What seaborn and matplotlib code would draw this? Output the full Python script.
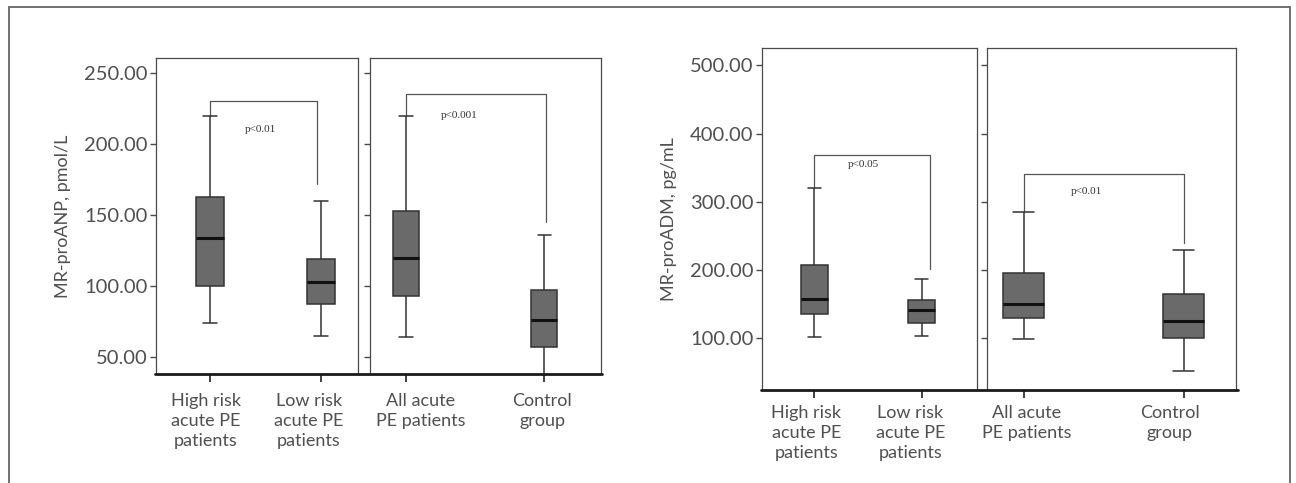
import numpy as np
import pandas as pd
import matplotlib
matplotlib.use("Agg")
import matplotlib.pyplot as plt
import matplotlib.transforms as mtransforms
from matplotlib.lines import Line2D
from matplotlib.patches import Rectangle
import seaborn as sns

# categories
risk_groups = ["High risk\nacute PE\npatients", "Low risk\nacute PE\npatients"]
all_groups = ["All acute\nPE patients", "Control\ngroup"]

# five-number summaries: [low whisker, Q1, median, Q3, high whisker]
anp_high_risk = [74, 100, 134, 163, 220]
anp_low_risk = [65, 87, 103, 119, 160]
anp_all_acute = [64, 93, 120, 153, 220]
anp_control = [30, 57, 76, 97, 136]

adm_high_risk = [102, 136, 157, 208, 320]
adm_low_risk = [103, 123, 142, 156, 187]
adm_all_acute = [99, 129, 150, 196, 285]
adm_control = [52, 100, 125, 165, 230]

# significance brackets: [bracket top, right leg bottom]
anp_risk_bracket = [230, 172]
anp_all_bracket = [235, 145]
adm_risk_bracket = [369, 202]
adm_all_bracket = [341, 240]
p_labels = ["p<0.01", "p<0.001", "p<0.05", "p<0.01"]

anp_ticks = [50, 100, 150, 200, 250]
adm_ticks = [100, 200, 300, 400, 500]

W, H = 1296, 483
TEXT = "#505050"
FRAME = "#4a4a4a"
FILL = "#6a6a6a"

sns.set_style("white")
plt.rcParams["font.family"] = ["Lato", "DejaVu Sans"]

fig = plt.figure(figsize=(W / 100, H / 100), dpi=100)


def add_ax(x0, x1, top, bottom):
    return fig.add_axes([x0 / W, 1 - bottom / H, (x1 - x0) / W, (bottom - top) / H])


def draw_panel(ax, groups, summaries, width, xlim, ylim, ticks, show_labels, xpad, label_dx):
    df = pd.DataFrame({
        "group": np.repeat(groups, 5),
        "value": np.concatenate(summaries),
    })
    sns.boxplot(data=df, x="group", y="value", order=groups, ax=ax,
                width=width, color=FILL, saturation=1, linecolor="#333333",
                linewidth=1.1, whis=(0, 100), showfliers=False,
                medianprops=dict(color="#111111", linewidth=2.2))
    ax.set_xlim(*xlim)
    ax.set_ylim(*ylim)
    ax.set_xlabel("")
    ax.set_ylabel("")
    ax.set_yticks(ticks)
    if show_labels:
        ax.set_yticklabels([f"{t:.2f}" for t in ticks])
    else:
        ax.set_yticklabels([])
    ax.set_xticks([0, 1])
    ax.set_xticklabels(groups, fontsize=13, color=TEXT, linespacing=1.3)
    ax.tick_params(axis="y", direction="out", length=4, width=1, color=FRAME,
                   labelsize=14.5, labelcolor=TEXT, pad=2, left=True)
    ax.tick_params(axis="x", direction="out", length=6, width=1.2, color="#222222",
                   pad=xpad, bottom=True)
    for lab, dx in zip(ax.get_xticklabels(), label_dx):
        lab.set_transform(lab.get_transform() +
                          mtransforms.ScaledTranslation(dx / 100, 0, fig.dpi_scale_trans))
    for side in ["left", "top", "right"]:
        ax.spines[side].set_color(FRAME)
        ax.spines[side].set_linewidth(0.9)
    ax.spines["bottom"].set_visible(False)


def bracket(ax, left_bottom, top, right_bottom, right_dx, label, tx, ty):
    ax.plot([0, 0, 1 + right_dx, 1 + right_dx],
            [left_bottom, top, top, right_bottom],
            color="#555555", linewidth=0.9, zorder=1)
    ax.text(tx, ty, label, ha="center", va="center", fontsize=8,
            family=["Liberation Serif", "DejaVu Serif"], color="#333333")


# MR-proANP
ax1 = add_ax(155.6, 357.7, 58, 374)
ax2 = add_ax(369.8, 600.5, 58, 374)
anp_ylim = (38, 260.6)
draw_panel(ax1, risk_groups, [anp_high_risk, anp_low_risk], 0.25,
           (-0.49, 1.33), anp_ylim, anp_ticks, True, 8, [-4, -12])
draw_panel(ax2, all_groups, [anp_all_acute, anp_control], 0.19,
           (-0.262, 1.407), anp_ylim, anp_ticks, False, 8, [15, -2])
ax1.set_ylabel("MR-proANP, pmol/L", fontsize=13, color=TEXT, labelpad=9)
bracket(ax1, anp_high_risk[4], anp_risk_bracket[0], anp_risk_bracket[1], -0.04,
        p_labels[0], 0.45, 210)
bracket(ax2, anp_all_acute[4], anp_all_bracket[0], anp_all_bracket[1], 0.01,
        p_labels[1], 0.384, 220)

# MR-proADM
ax3 = add_ax(761.6, 976.7, 48.3, 390)
ax4 = add_ax(987, 1236, 48.3, 390)
adm_ylim = (24.2, 525)
draw_panel(ax3, risk_groups, [adm_high_risk, adm_low_risk], 0.25,
           (-0.494, 1.515), adm_ylim, adm_ticks, True, 5, [-8, -11])
draw_panel(ax4, all_groups, [adm_all_acute, adm_control], 0.26,
           (-0.229, 1.327), adm_ylim, adm_ticks, False, 5, [3, -14])
ax3.set_ylabel("MR-proADM, pg/mL", fontsize=13, color=TEXT, labelpad=9)
bracket(ax3, adm_high_risk[4], adm_risk_bracket[0], adm_risk_bracket[1], 0.075,
        p_labels[2], 0.454, 354)
bracket(ax4, adm_all_acute[4], adm_all_bracket[0], adm_all_bracket[1], 0.0,
        p_labels[3], 0.394, 315)

# thick baselines spanning each pair of panels
for x0, x1, y in [(155, 602, 374), (761, 1238, 390)]:
    fig.add_artist(Line2D([x0 / W, x1 / W], [1 - y / H, 1 - y / H],
                          transform=fig.transFigure, color="#1a1a1a", linewidth=2.0))

# outer frame
fig.add_artist(Rectangle((8.5 / W, -0.05), (1290 - 8.5) / W, 1.05 - 7 / H,
                         transform=fig.transFigure, fill=False,
                         edgecolor="#666666", linewidth=1.3))

fig.savefig("out.png", dpi=100)
